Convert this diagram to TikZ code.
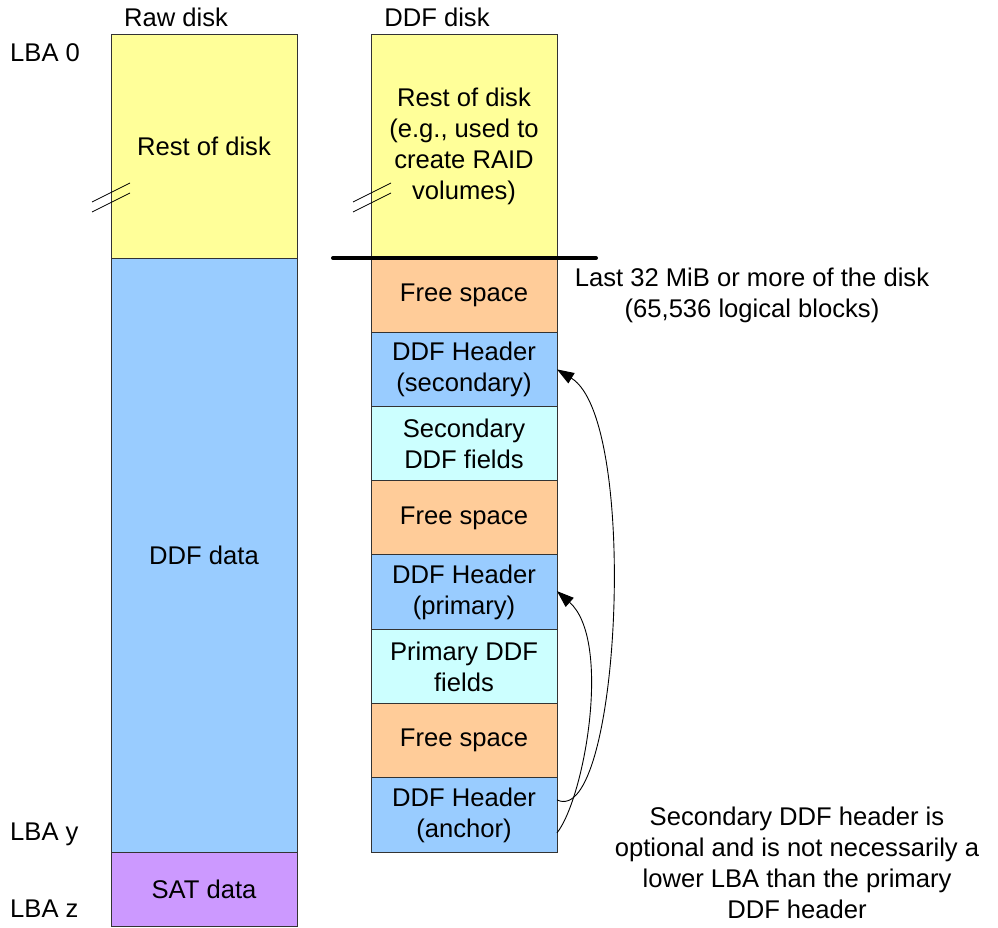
\documentclass[tikz,border=0pt]{standalone}
\usepackage{fontspec}
\setmainfont{Liberation Sans}
\usetikzlibrary{arrows.meta}

\definecolor{restyellow}{HTML}{FFFF99}
\definecolor{datablue}{HTML}{99CCFF}
\definecolor{freeorange}{HTML}{FFCC99}
\definecolor{fieldcyan}{HTML}{CCFFFF}
\definecolor{satpurple}{HTML}{CC99FF}

\tikzset{
  seg/.style={draw=black!80, line width=1pt, minimum width=186pt, inner sep=0pt,
    outer sep=0pt, align=center, font=\fontsize{25.6}{31}\selectfont},
  lbl/.style={inner sep=0pt, align=center, font=\fontsize{25.6}{31}\selectfont},
  breakmark/.style={line width=0.8pt},
  link/.style={line width=0.9pt, -{Triangle[length=17pt,width=12pt]}},
}

\begin{document}
\begin{tikzpicture}[x=1pt, y=-1pt]
\useasboundingbox (0,0) rectangle (998,928);

% raw disk column
\node[seg, fill=restyellow, minimum height=223pt] (rawrest) at (204,146.5) {Rest of disk};
\node[seg, fill=datablue, minimum height=594pt] (rawdata) at (204,555) {DDF data};
\node[seg, fill=satpurple, minimum height=74pt] (sat) at (204,889) {SAT data};

% DDF disk column
\node[seg, fill=restyellow, minimum height=223pt] (ddfrest) at (464,146.5)
  {Rest of disk\\(e.g., used to\\create RAID\\volumes)};
\node[seg, fill=freeorange, minimum height=74.25pt] (free1) at (464,295.1) {Free space};
\node[seg, fill=datablue, minimum height=74.25pt] (sec) at (464,369.4) {DDF Header\\(secondary)};
\node[seg, fill=fieldcyan, minimum height=74.25pt] (secf) at (464,443.6) {Secondary\\DDF fields};
\node[seg, fill=freeorange, minimum height=74.25pt] (free2) at (464,517.9) {Free space};
\node[seg, fill=datablue, minimum height=74.25pt] (pri) at (464,592.1) {DDF Header\\(primary)};
\node[seg, fill=fieldcyan, minimum height=74.25pt] (prif) at (464,666.4) {Primary DDF\\fields};
\node[seg, fill=freeorange, minimum height=74.25pt] (free3) at (464,740.6) {Free space};
\node[seg, fill=datablue, minimum height=74.25pt] (anc) at (464,814.9) {DDF Header\\(anchor)};

% column titles and LBA marks
\node[lbl] (rawtitle) at (176,17) {Raw disk};
\node[lbl] (ddftitle) at (437,17) {DDF disk};
\node[lbl, anchor=west] (lba0) at (10,53) {LBA 0};
\node[lbl, anchor=west] (lbay) at (10,834) {LBA y};
\node[lbl, anchor=west] (lbaz) at (10,909) {LBA z};

% break marks
\draw[breakmark] (92,202) -- (130,183);
\draw[breakmark] (92,212) -- (130,193);
\draw[breakmark] (353,202) -- (391,183);
\draw[breakmark] (353,212) -- (391,193);

% boundary of the reserved area
\coordinate (bndl) at (333,258);
\coordinate (bndr) at (596,258);
\draw[line width=4pt, line cap=round] (bndl) -- (bndr);

% notes
\node[lbl] (lastnote) at (752,295.5) {Last 32 MiB or more of the disk\\(65,536 logical blocks)};
\node[lbl] (secnote) at (797,863)
  {Secondary DDF header is\\optional and is not necessarily a\\lower LBA than the primary\\DDF header};

% anchor references
\draw[link] ([yshift=-18pt]anc.east) .. controls (585,797) and (612,640) .. ([yshift=1pt]pri.east);
\draw[link] ([yshift=15pt]anc.east) .. controls (620,830) and (640,420) .. (sec.east);

\end{tikzpicture}
\end{document}
